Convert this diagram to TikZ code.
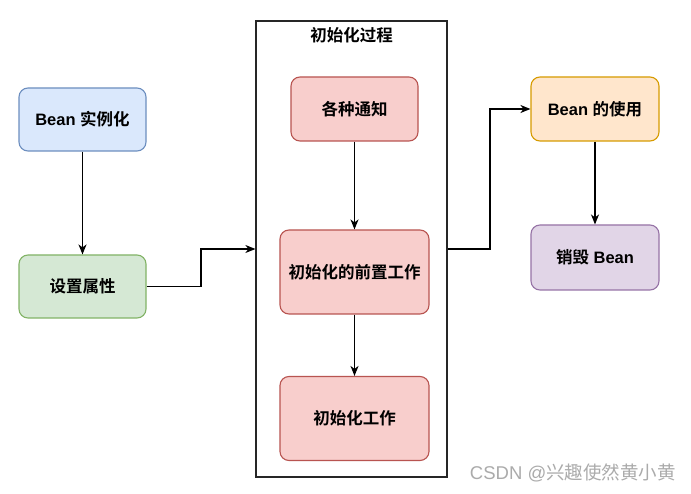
\documentclass[tikz,border=0pt]{standalone}
\usepackage{fontspec}
\setmainfont{Liberation Sans}
\newfontfamily\cjk{Noto Sans CJK SC}[BoldFont={Noto Sans CJK SC Bold}]
\usetikzlibrary{arrows.meta}
\definecolor{bfill}{HTML}{DAE8FC}\definecolor{bline}{HTML}{6C8EBF}
\definecolor{gfill}{HTML}{D5E8D4}\definecolor{gline}{HTML}{82B366}
\definecolor{rfill}{HTML}{F8CECC}\definecolor{rline}{HTML}{B85450}
\definecolor{ofill}{HTML}{FFE6CC}\definecolor{oline}{HTML}{D79B00}
\definecolor{pfill}{HTML}{E1D5E7}\definecolor{pline}{HTML}{9673A6}
\begin{document}
\begin{tikzpicture}[x=1pt,y=-1pt,
  box/.style={rectangle,rounded corners=9pt,line width=1.1pt,inner sep=0pt,align=center,
    font=\fontsize{16.5}{19}\selectfont\bfseries},
  arr/.style={line width=1.2pt,-{Stealth[length=10pt,width=8pt,inset=3pt]}}]
\useasboundingbox (0,0) rectangle (691,494);
\fill[white] (0,0) rectangle (691,494);
\node[box,fill=bfill,draw=bline,minimum width=127pt,minimum height=63pt] (inst) at (82.5,119.5) {Bean {\cjk 实例化}};
\node[box,fill=gfill,draw=gline,minimum width=127pt,minimum height=63pt] (prop) at (82.5,286.5) {\cjk 设置属性};
\node[draw=black!85,line width=1.2pt,minimum width=191pt,minimum height=456pt,inner sep=0pt] (proc) at (351.5,249) {};
\node[font=\fontsize{16.5}{19}\selectfont\bfseries\cjk] (title) at (351.5,35) {初始化过程};
\node[box,fill=rfill,draw=rline,minimum width=127pt,minimum height=64pt] (notify) at (354.5,109) {\cjk 各种通知};
\node[box,fill=rfill,draw=rline,minimum width=149pt,minimum height=84pt] (pre) at (354.5,272) {\cjk 初始化的前置工作};
\node[box,fill=rfill,draw=rline,minimum width=149pt,minimum height=84pt] (work) at (354.5,418.5) {\cjk 初始化工作};
\node[box,fill=ofill,draw=oline,minimum width=128pt,minimum height=64pt] (use) at (595,109) {Bean {\cjk 的使用}};
\node[box,fill=pfill,draw=pline,minimum width=128pt,minimum height=65pt] (destroy) at (595,257.5) {{\cjk 销毁} Bean};
\node[text=black!33,font=\fontsize{18.5}{20}\selectfont,anchor=east,inner sep=0pt] (wm) at (676,473) {CSDN @{\cjk 兴趣使然黄小黄}};
\draw[arr] (inst) -- (prop);
\draw[arr] (notify) -- (pre);
\draw[arr] (pre) -- (work);
\draw[arr] (use) -- (destroy);
\draw[arr] (prop.east) -- (201,286.5) |- (proc.west);
\draw[arr] (proc.east) -- (490,249) |- (use.west);
\end{tikzpicture}
\end{document}
